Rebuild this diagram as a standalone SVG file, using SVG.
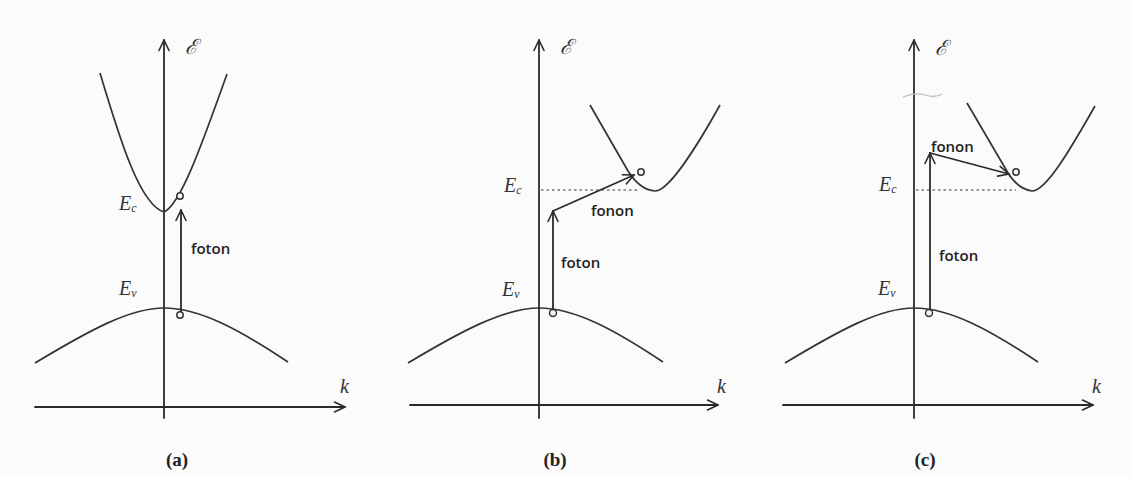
<svg xmlns="http://www.w3.org/2000/svg" width="1132" height="477" viewBox="0 0 1132 477">
<style>
.ln{fill:none;stroke:#2a2a2a;stroke-width:1.8;stroke-linecap:round;stroke-linejoin:round}
.band{fill:none;stroke:#333;stroke-width:1.7}
.dot{fill:none;stroke:#777;stroke-width:1.4;stroke-dasharray:2.5,3}
.circ{fill:#f4f4f4;stroke:#333;stroke-width:1.5}
.lab{font-family:"Liberation Serif","DejaVu Serif",serif;font-style:italic;font-size:20px;fill:#333}
.sub{font-size:12px}
.scr{font-family:"DejaVu Serif","Liberation Serif",serif;font-style:italic;font-size:21px;fill:#333}
.ph{font-family:"Open Sans","Liberation Sans",sans-serif;font-weight:600;font-size:15px;fill:#222}
.cap{font-family:"Liberation Serif",serif;font-weight:bold;font-size:19px;fill:#222;text-anchor:middle}
</style>
<defs>
<marker id="arr" viewBox="0 0 14 14" refX="12.5" refY="7" markerWidth="14" markerHeight="14" markerUnits="userSpaceOnUse" orient="auto">
<path d="M2,2 L12.5,7 L2,12" fill="none" stroke="#2a2a2a" stroke-width="1.6" stroke-linecap="round" stroke-linejoin="round"/>
</marker>
</defs>
<rect x="0" y="0" width="1132" height="477" fill="#fbfbfb"/>

<!-- Panel (a) -->
<g id="panel-a">
<g id="a-axes">
<line class="ln" x1="164" y1="418" x2="164" y2="40" marker-end="url(#arr)"/>
<line class="ln" x1="35" y1="407" x2="345" y2="407" marker-end="url(#arr)"/>
<text class="scr" x="185" y="54">ℰ</text>
<text class="lab" x="340" y="393">k</text>
</g>
<g id="a-cband">
<path class="band" d="M100,73 C120,140 140,205 164,212 C180,205 200,150 227,74"/>
<text class="lab" x="119" y="210">E<tspan class="sub" dy="2">c</tspan></text>
</g>
<g id="a-vband">
<path class="band" d="M35,363 C90,330 130,308 164,308 C200,308 240,330 288,362"/>
<text class="lab" x="119" y="295">E<tspan class="sub" dy="2">v</tspan></text>
</g>
<g id="a-transition">
<line class="ln" x1="181" y1="312" x2="181" y2="210" marker-end="url(#arr)"/>
<circle class="circ" cx="180" cy="315" r="3.2"/>
<circle class="circ" cx="180" cy="196" r="3.2"/>
<text class="ph" x="191" y="254">foton</text>
</g>
<text class="cap" x="177" y="466">(a)</text>
</g>

<!-- Panel (b) -->
<g id="panel-b">
<g id="b-axes">
<line class="ln" x1="539" y1="418" x2="539" y2="40" marker-end="url(#arr)"/>
<line class="ln" x1="410" y1="405" x2="718" y2="405" marker-end="url(#arr)"/>
<text class="scr" x="560" y="54">ℰ</text>
<text class="lab" x="717" y="393">k</text>
</g>
<g id="b-cband">
<path class="band" d="M590,105 L628,171 Q640,190 655,191 C668,191 695,150 720,105"/>
<line class="dot" x1="541" y1="190" x2="640" y2="190"/>
<text class="lab" x="504" y="192">E<tspan class="sub" dy="2">c</tspan></text>
</g>
<g id="b-vband">
<path class="band" d="M408,363 C463,330 505,308 539,308 C575,308 615,330 663,362"/>
<text class="lab" x="502" y="296">E<tspan class="sub" dy="2">v</tspan></text>
</g>
<g id="b-transition">
<line class="ln" x1="553" y1="310" x2="553" y2="211" marker-end="url(#arr)"/>
<line class="ln" x1="553" y1="211" x2="634" y2="175" marker-end="url(#arr)"/>
<circle class="circ" cx="553" cy="313" r="3.5"/>
<circle class="circ" cx="641" cy="172" r="3.2"/>
<text class="ph" x="591" y="216">fonon</text>
<text class="ph" x="561" y="268">foton</text>
</g>
<text class="cap" x="555" y="466">(b)</text>
</g>

<!-- Panel (c) -->
<g id="panel-c">
<g id="c-axes">
<line class="ln" x1="914" y1="418" x2="914" y2="40" marker-end="url(#arr)"/>
<line class="ln" x1="783" y1="405" x2="1093" y2="405" marker-end="url(#arr)"/>
<text class="scr" x="935" y="55">ℰ</text>
<text class="lab" x="1092" y="393">k</text>
<path d="M903,97 Q915,92 925,95 Q935,98 942,94" fill="none" stroke="#bbb" stroke-width="1.2"/>
</g>
<g id="c-cband">
<path class="band" d="M967,103 L1008,173 Q1018,189 1032,191 C1046,191 1070,150 1095,106"/>
<line class="dot" x1="916" y1="190" x2="1016" y2="190"/>
<text class="lab" x="879" y="191">E<tspan class="sub" dy="2">c</tspan></text>
</g>
<g id="c-vband">
<path class="band" d="M785,363 C840,330 880,308 914,308 C950,308 990,330 1038,362"/>
<text class="lab" x="878" y="295">E<tspan class="sub" dy="2">v</tspan></text>
</g>
<g id="c-transition">
<line class="ln" x1="930" y1="310" x2="930" y2="153" marker-end="url(#arr)"/>
<line class="ln" x1="930" y1="153" x2="1009" y2="174" marker-end="url(#arr)"/>
<circle class="circ" cx="929" cy="313" r="3.5"/>
<circle class="circ" cx="1016" cy="172" r="3.2"/>
<text class="ph" x="931" y="152">fonon</text>
<text class="ph" x="939" y="261">foton</text>
</g>
<text class="cap" x="925" y="466">(c)</text>
</g>
</svg>
